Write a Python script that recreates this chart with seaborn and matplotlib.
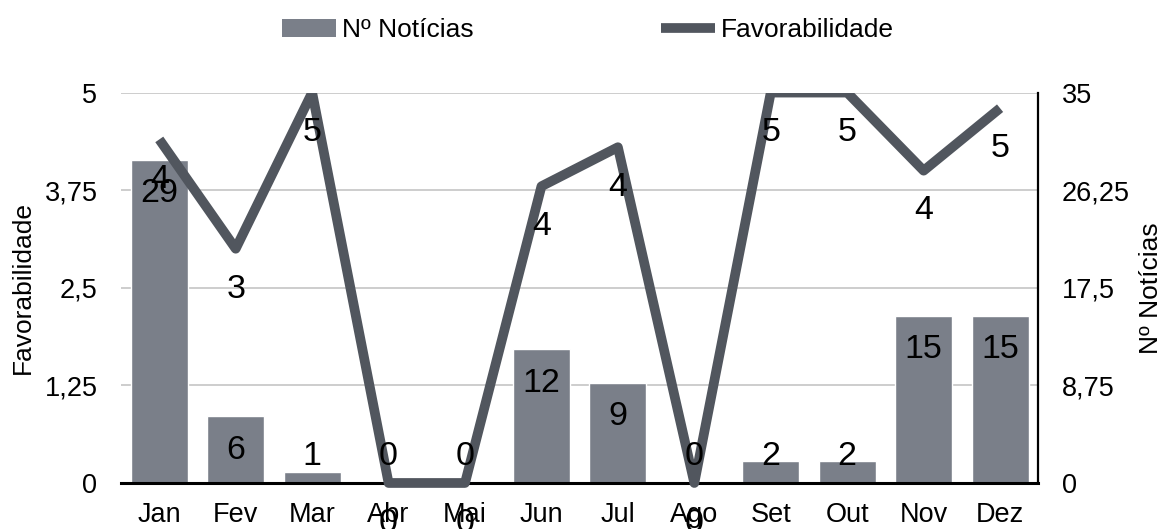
import numpy as np
import pandas as pd
import seaborn as sns
import matplotlib.pyplot as plt
from matplotlib.ticker import FixedLocator, FuncFormatter
from matplotlib.patches import Patch, Rectangle
from matplotlib.lines import Line2D

# dados
meses = ['Jan', 'Fev', 'Mar', 'Abr', 'Mai', 'Jun', 'Jul', 'Ago', 'Set', 'Out', 'Nov', 'Dez']
noticias = [29, 6, 1, 0, 0, 12, 9, 0, 2, 2, 15, 15]
favorabilidade = [4.4, 3.0, 5.0, 0.0, 0.0, 3.8, 4.3, 0.0, 5.0, 5.0, 4.0, 4.8]
fav_ticks = [0, 1.25, 2.5, 3.75, 5]
not_ticks = [0, 8.75, 17.5, 26.25, 35]

df = pd.DataFrame({
    'pos': np.arange(len(meses)),
    'mes': meses,
    'noticias': noticias,
    'favorabilidade': favorabilidade,
})

cor_barra = '#7a7f89'
cor_linha = '#51565e'

sns.set_theme(style='white')
plt.rcParams['font.family'] = ['Liberation Sans', 'DejaVu Sans']

fig = plt.figure(figsize=(11.64, 5.29), dpi=100)
ax = fig.add_axes([0.104, 0.087, 0.788, 0.738])
ax2 = ax.twinx()

# barras no eixo da direita
sns.barplot(data=df, x='pos', y='noticias', color=cor_barra, saturation=1,
            width=0.745, ax=ax2, errorbar=None)
ax2.set_ylim(0, 35)
ax2.yaxis.set_major_locator(FixedLocator(not_ticks))
ax2.set_axisbelow(True)
ax2.grid(axis='y', color='#c0c0c0', linewidth=1.1)
ax2.grid(axis='x', visible=False)

# linha no eixo da esquerda, por cima das barras
sns.lineplot(data=df, x='pos', y='favorabilidade', color=cor_linha, linewidth=7,
             sort=False, ax=ax, solid_capstyle='butt')
ax.set_ylim(0, 5)
ax.yaxis.set_major_locator(FixedLocator(fav_ticks))
ax.set_zorder(ax2.get_zorder() + 1)
ax.patch.set_visible(False)
ax.grid(False)

# a linha e cortada no topo, mas passa por cima do eixo na base
clip = Rectangle((0, -0.1), 1, 1.1, transform=ax.transAxes, fill=False, visible=False)
ax.add_patch(clip)
for ln in ax.lines:
    ln.set_clip_path(clip)
    ln.set_zorder(3)

ax.set_xlim(-0.5, len(meses) - 0.5)
ax.set_xticks(df['pos'], meses)

virgula = FuncFormatter(lambda v, p: f'{v:g}'.replace('.', ','))
ax.yaxis.set_major_formatter(virgula)
ax2.yaxis.set_major_formatter(virgula)

for a in (ax, ax2):
    a.tick_params(axis='both', length=0, labelsize=19.5, colors='black')
    for s in a.spines.values():
        s.set_visible(False)
ax.tick_params(axis='y', pad=17)
ax.tick_params(axis='x', pad=14)
ax2.tick_params(axis='y', pad=17)
ax.spines['bottom'].set_visible(True)
ax.spines['bottom'].set_color('black')
ax.spines['bottom'].set_linewidth(2.2)
ax.spines['bottom'].set_zorder(2)
ax2.spines['right'].set_visible(True)
ax2.spines['right'].set_color('black')
ax2.spines['right'].set_linewidth(1.6)

ax.set_xlabel('')
ax.set_ylabel('Favorabilidade', fontsize=19, color='black')
ax2.set_ylabel('Nº Notícias', fontsize=19, color='black')
ax.yaxis.set_label_coords(-0.094, 0.5)
ax2.yaxis.set_label_coords(1.110, 0.5)

# rotulos das barras (dentro da ponta, com limite perto da base), por cima da linha
for i, v in enumerate(noticias):
    ax.text(i, max(v - 3.05, 2.33), str(v), transform=ax2.transData,
            ha='center', va='center', fontsize=24.5, color='black', zorder=5)

# rotulos da linha (abaixo do ponto)
for i, v in enumerate(favorabilidade):
    ax.annotate(str(round(v)), (i, v), xytext=(0, -29), textcoords='offset points',
                ha='center', va='center', fontsize=24.5, color='black',
                annotation_clip=False, zorder=5)

handles = [Patch(facecolor=cor_barra, edgecolor='none'),
           Line2D([], [], color=cor_linha, linewidth=7, solid_capstyle='butt')]
fig.legend(handles, ['Nº Notícias', 'Favorabilidade'], loc='center',
           bbox_to_anchor=(0.505, 0.943), ncol=2, frameon=False, fontsize=19,
           labelcolor='black', handlelength=2.05, handletextpad=0.23,
           columnspacing=7.1, handleheight=0.65)

fig.savefig('out.png', dpi=100)
